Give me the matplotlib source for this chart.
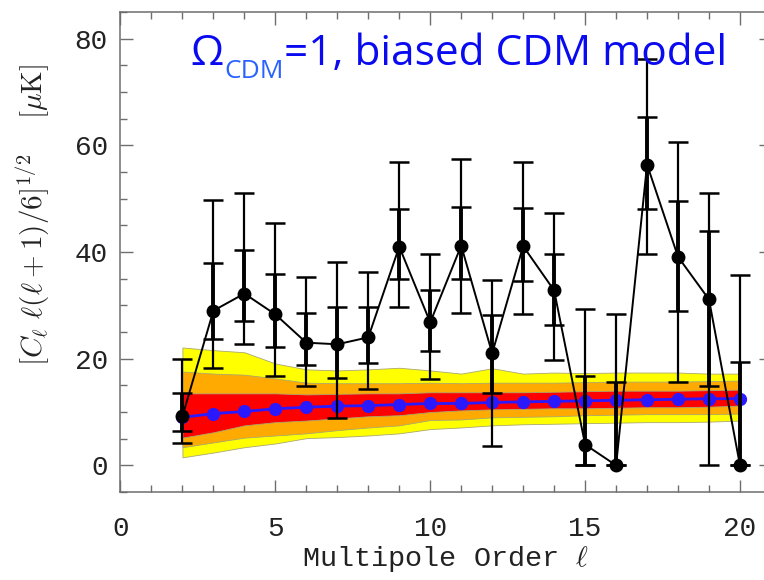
import numpy as np
import matplotlib
matplotlib.use("Agg")
import matplotlib.pyplot as plt
from matplotlib.transforms import IdentityTransform

plt.rcParams['mathtext.fontset'] = 'cm'

# multipole orders and measured amplitudes [uK]
ell = np.arange(2, 21)
cl = [9.2, 29.0, 32.2, 28.3, 23.0, 22.7, 24.0, 41.0, 26.8, 41.2,
      21.0, 41.1, 32.8, 3.9, 0.0, 56.4, 39.1, 31.1, 0.0]
inner_hi = [13.5, 38.0, 40.3, 35.8, 28.5, 29.6, 29.6, 48.1, 32.8, 48.5,
            28.1, 48.3, 39.7, 16.7, 15.7, 65.4, 49.6, 44.0, 19.3]
inner_lo = [6.4, 23.6, 27.0, 22.1, 18.9, 16.3, 19.1, 35.0, 21.5, 35.0,
            13.5, 34.5, 26.4, 0.0, 0.0, 48.1, 29.0, 14.8, 0.0]
outer_hi = [19.9, 49.8, 51.0, 45.5, 35.4, 38.2, 36.3, 56.9, 39.7, 57.5,
            34.7, 56.8, 47.4, 29.4, 28.3, 76.1, 60.6, 51.0, 35.6]
outer_lo = [4.2, 18.2, 22.7, 16.7, 14.8, 8.8, 14.4, 29.6, 16.1, 28.5,
            3.6, 28.3, 19.7, 0.0, 0.0, 39.7, 15.7, 0.0, 0.0]

# CDM model mean and confidence bands
model = [9.0, 9.7, 10.1, 10.6, 10.9, 11.1, 11.2, 11.4, 11.6, 11.6,
         11.8, 11.9, 12.0, 12.1, 12.2, 12.3, 12.4, 12.5, 12.5]
yel_hi = [22.1, 21.6, 21.2, 19.1, 18.0, 17.8, 18.0, 18.3, 17.8, 17.2,
          18.2, 17.2, 17.4, 17.3, 17.4, 17.4, 17.4, 17.2, 17.2]
ora_hi = [17.6, 17.2, 17.0, 16.3, 15.5, 15.4, 15.4, 15.4, 15.5, 15.4,
          15.5, 15.5, 15.5, 15.6, 15.7, 15.7, 15.7, 15.8, 15.9]
red_hi = [13.5, 13.5, 13.5, 13.5, 13.3, 13.4, 13.5, 13.5, 13.7, 13.7,
          13.7, 13.7, 13.8, 13.9, 14.0, 14.0, 14.0, 14.1, 14.2]
red_lo = [5.2, 6.2, 7.5, 8.1, 8.4, 8.8, 9.2, 9.4, 10.0, 10.3,
          10.5, 10.6, 10.7, 10.7, 10.8, 10.9, 10.9, 11.0, 11.2]
ora_lo = [3.4, 4.3, 5.2, 5.6, 6.0, 6.6, 7.1, 7.5, 8.5, 8.6,
          9.0, 9.1, 9.2, 9.4, 9.5, 9.6, 9.6, 9.6, 9.7]
yel_lo = [1.5, 2.4, 3.4, 4.1, 5.1, 5.3, 5.6, 6.0, 6.8, 7.1,
          7.5, 7.7, 7.8, 7.9, 8.0, 8.1, 8.1, 8.2, 8.4]

cl = np.array(cl)
fig = plt.figure(figsize=(7.64, 5.8), dpi=100)
ax = fig.add_axes([0.1577, 0.1517, 0.8514, 0.8276])

edge = '#a8a870'
ax.fill_between(ell, yel_lo, yel_hi, color='#ffff00', ec=edge, lw=0.6, zorder=1)
ax.fill_between(ell, ora_lo, ora_hi, color='#ffaa00', ec=edge, lw=0.6, zorder=2)
ax.fill_between(ell, red_lo, red_hi, color='#ff0000', ec=edge, lw=0.6, zorder=3)

ax.plot(ell, model, '-o', color='#2a18ff', lw=2, ms=8.5, zorder=4)

# data: outer and inner error bars
ax.errorbar(ell, cl, yerr=[cl - np.array(outer_lo), np.array(outer_hi) - cl],
            fmt='none', ecolor='black', elinewidth=1.6, capsize=7, capthick=1.8, zorder=5)
ax.errorbar(ell, cl, yerr=[cl - np.array(inner_lo), np.array(inner_hi) - cl],
            fmt='none', ecolor='black', elinewidth=2.8, capsize=7, capthick=1.8, zorder=5)
ax.plot(ell, cl, '-o', color='black', lw=1.4, ms=9, zorder=6)

ax.set_xlim(0, 21)
ax.set_ylim(-5, 85)
ax.set_xticks([0, 5, 10, 15, 20])
ax.set_xticks(np.arange(0, 22), minor=True)
ax.set_yticks([0, 20, 40, 60, 80])
ax.set_yticks(np.arange(-5, 86, 5), minor=True)

for s in ax.spines.values():
    s.set_color('#6e6e6e')
    s.set_linewidth(1.1)
ax.tick_params(which='both', direction='in', top=True, right=True, color='#6e6e6e', width=1.0)
ax.tick_params(which='major', length=9)
ax.tick_params(which='minor', length=5)
ax.tick_params(axis='y', pad=9)
ax.tick_params(axis='x', pad=17)
for lab in ax.get_xticklabels() + ax.get_yticklabels():
    lab.set_fontfamily('Liberation Mono')
    lab.set_fontsize(20)
    lab.set_color('#222222')

ax.set_xlabel(r'Multipole Order $\ell$', fontsize=20.5, family='Liberation Mono', color='#222222')
ax.xaxis.set_label_coords(0.5, -0.108)
ax.set_ylabel(r'$[C_\ell\ \ell(\ell+1)/6]^{1/2}\ \ \ \ [\mu{\rm K}]$', fontsize=21, color='#222222')
ax.yaxis.set_label_coords(-0.105, 0.577)

# blue annotation, pieced together so the subscript can have its own tint
tf = IdentityTransform()
fnt = 'Open Sans'
fs = 30.5
base = 580 - 65
t1 = fig.text(190, base, 'Ω', transform=tf, fontsize=fs, family=fnt, color='#0a0af0', va='baseline')
fig.canvas.draw()
r = fig.canvas.get_renderer()
b1 = t1.get_window_extent(r)
t2 = fig.text(b1.x1 + 1, base - 13, 'CDM', transform=tf, fontsize=fs * 0.62, family=fnt,
              color='#2a62ff', va='baseline')
b2 = t2.get_window_extent(r)
fig.text(b2.x1, base, '=1, biased CDM model', transform=tf, fontsize=fs, family=fnt,
         color='#0a0af0', va='baseline')

fig.savefig('out.png', dpi=100)
